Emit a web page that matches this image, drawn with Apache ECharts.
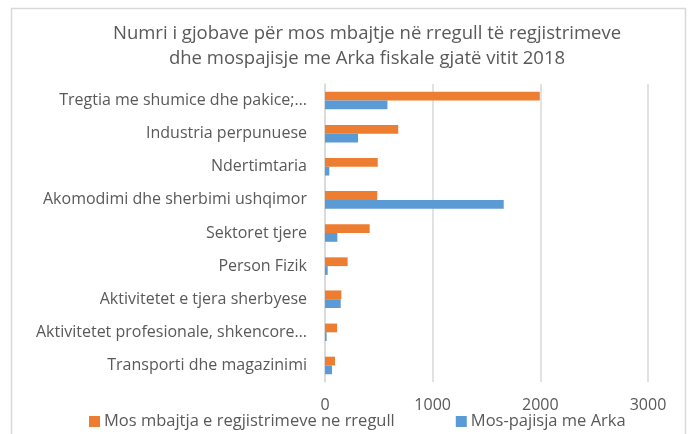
<!DOCTYPE html>
<html>
<head>
<meta charset="utf-8">
<script src="https://cdn.jsdelivr.net/npm/echarts@6/dist/echarts.min.js"></script>
<style>
  html, body { margin: 0; padding: 0; background: #fff; }
  #chart { width: 691px; height: 434px; }
</style>
</head>
<body>
<div id="chart"></div>
<script>
const categories = [
  'Tregtia me shumice dhe pakice;…',
  'Industria perpunuese',
  'Ndertimtaria',
  'Akomodimi dhe sherbimi ushqimor',
  'Sektoret tjere',
  'Person Fizik',
  'Aktivitetet e tjera sherbyese',
  'Aktivitetet profesionale, shkencore…',
  'Transporti dhe magazinimi'
]
const mosMbajtja = [1995, 680, 490, 485, 415, 210, 152, 112, 93]
const mosPajisja = [580, 307, 40, 1660, 115, 25, 146, 15, 65]
const seriesNames = ['Mos mbajtja e regjistrimeve ne rregull', 'Mos-pajisja me Arka']

const FONT = "'Open Sans', 'Noto Sans', sans-serif"
const chart = echarts.init(document.getElementById('chart'))

let option = {
  animation: false,
  textStyle: { fontFamily: FONT },
  title: {
    text: 'Numri i gjobave për mos mbajtje në rregull të regjistrimeve\ndhe mospajisje me Arka fiskale gjatë vitit 2018',
    left: 362,
    textAlign: 'center',
    top: 16,
    textStyle: {
      fontFamily: FONT,
      fontSize: 18.5,
      fontWeight: 'normal',
      color: '#595959',
      lineHeight: 25
    }
  },
  graphic: [
    {
      type: 'rect',
      shape: { x: 11.5, y: 8.5, width: 674, height: 440 },
      style: { fill: 'none', stroke: '#d9d9d9', lineWidth: 1.5 },
      silent: true
    }
  ],
  legend: {
    bottom: -1,
    left: 84,
    icon: 'rect',
    itemWidth: 11,
    itemHeight: 11,
    itemGap: 61,
    textStyle: { fontFamily: FONT, fontSize: 16.5, color: '#595959', padding: [0, 0, 0, -1] },
    data: seriesNames
  },
  grid: {
    left: 325,
    right: 43,
    top: 84,
    bottom: 52
  },
  xAxis: {
    type: 'value',
    min: 0,
    max: 3000,
    interval: 1000,
    axisLine: { show: false },
    axisTick: { show: false },
    splitLine: { lineStyle: { color: '#d9d9d9', width: 1.5 } },
    axisLabel: {
      color: '#595959',
      fontSize: 16,
      margin: 15,
      fontFamily: FONT,
      formatter: function (v) { return String(v) }
    }
  },
  yAxis: {
    type: 'category',
    inverse: true,
    data: categories,
    axisLine: { show: true, lineStyle: { color: '#d9d9d9', width: 1.5 } },
    axisTick: { show: false },
    axisLabel: { color: '#595959', fontSize: 16, margin: 18, fontFamily: FONT }
  },
  series: [
    {
      name: seriesNames[0],
      type: 'bar',
      data: mosMbajtja,
      barGap: 0,
      barCategoryGap: '47%',
      itemStyle: { color: '#ED7D31' }
    },
    {
      name: seriesNames[1],
      type: 'bar',
      data: mosPajisja,
      barGap: 0,
      barCategoryGap: '47%',
      itemStyle: { color: '#5B9BD5' }
    }
  ]
}
chart.setOption(option)
</script>
</body>
</html>
